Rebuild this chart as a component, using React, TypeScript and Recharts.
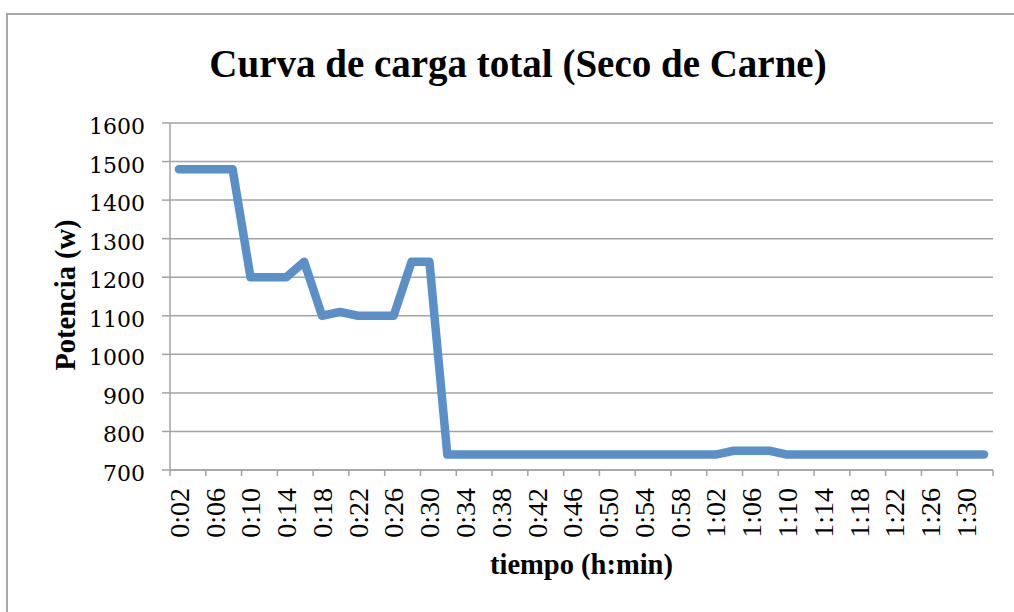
import React from 'react';
import { LineChart, Line, XAxis, YAxis, CartesianGrid } from 'recharts';

// tiempo (h:min), one reading every 2 minutes
const times = [
    '0:02', '0:04', '0:06', '0:08', '0:10', '0:12', '0:14', '0:16', '0:18', '0:20',
    '0:22', '0:24', '0:26', '0:28', '0:30', '0:32', '0:34', '0:36', '0:38', '0:40',
    '0:42', '0:44', '0:46', '0:48', '0:50', '0:52', '0:54', '0:56', '0:58', '1:00',
    '1:02', '1:04', '1:06', '1:08', '1:10', '1:12', '1:14', '1:16', '1:18', '1:20',
    '1:22', '1:24', '1:26', '1:28', '1:30', '1:32',
];

// Potencia (w)
const potencia = [
    1480, 1480, 1480, 1480, 1200, 1200, 1200, 1240, 1100, 1110,
    1100, 1100, 1100, 1240, 1240, 740, 740, 740, 740, 740,
    740, 740, 740, 740, 740, 740, 740, 740, 740, 740,
    740, 750, 750, 750, 740, 740, 740, 740, 740, 740,
    740, 740, 740, 740, 740, 740,
];

const yTicks = [700, 800, 900, 1000, 1100, 1200, 1300, 1400, 1500, 1600];

const data = times.map((t, i) => ({ t, w: potencia[i] }));

const W = 1014;
const H = 612;
const PLOT_LEFT = 170;
const PLOT_RIGHT = 993;
const PLOT_TOP = 123;
const PLOT_BOTTOM = 470;
const BAND = (PLOT_RIGHT - PLOT_LEFT) / times.length;
const GRID = '#a3a3a3';
const BLUE = '#5a8fc8';

// x tick: Excel style marks between categories, label rotated
const TimeTick = (props: any) => {
    const { x, y, payload } = props;
    const idx = times.indexOf(payload.value);
    const isLast = idx + 2 >= times.length;
    return (
        <g>
            <line x1={x - BAND / 2} x2={x - BAND / 2} y1={y} y2={y + 6} stroke={GRID} strokeWidth={1.5} />
            {isLast && (
                <line x1={x + BAND * 1.5} x2={x + BAND * 1.5} y1={y} y2={y + 6} stroke={GRID} strokeWidth={1.5} />
            )}
            <text
                transform={`translate(${x},${y + 18}) rotate(-90)`}
                textAnchor="end"
                dy="0.35em"
                fontFamily="'Liberation Serif', serif"
                fontSize={28}
                fill="#000"
            >
                {payload.value}
            </text>
        </g>
    );
};

const PowerTick = (props: any) => {
    const { x, y, payload } = props;
    return (
        <text x={x} y={y + 11} textAnchor="end" fontFamily="'DejaVu Serif', serif" fontSize={22} fill="#000">
            {payload.value}
        </text>
    );
};

export default function App() {
    return (
        <div
            style={{
                position: 'absolute',
                left: 0,
                top: 0,
                width: W,
                height: H,
                overflow: 'hidden',
                background: '#fff',
            }}
        >
            {/* chart frame */}
            <div
                style={{
                    position: 'absolute',
                    left: 6,
                    top: 13,
                    width: 1200,
                    height: 800,
                    border: '2px solid #a8a8a8',
                }}
            />
            <LineChart
                width={W}
                height={H}
                data={data}
                margin={{ top: PLOT_TOP, right: W - PLOT_RIGHT, bottom: 0, left: 0 }}
            >
                <CartesianGrid vertical={false} stroke={GRID} strokeWidth={1.5} />
                <XAxis
                    dataKey="t"
                    interval={1}
                    height={H - PLOT_BOTTOM}
                    padding={{ left: BAND / 2, right: BAND / 2 }}
                    tickLine={false}
                    tickSize={0}
                    tickMargin={0}
                    axisLine={{ stroke: GRID, strokeWidth: 1.5 }}
                    tick={<TimeTick />}
                />
                <YAxis
                    width={PLOT_LEFT}
                    domain={[700, 1600]}
                    ticks={yTicks}
                    interval={0}
                    allowDataOverflow
                    tickSize={8}
                    tickMargin={17}
                    axisLine={{ stroke: GRID, strokeWidth: 1.5 }}
                    tickLine={{ stroke: GRID, strokeWidth: 1.5 }}
                    tick={<PowerTick />}
                />
                <Line
                    type="linear"
                    dataKey="w"
                    stroke={BLUE}
                    strokeWidth={8.5}
                    strokeLinecap="round"
                    strokeLinejoin="round"
                    dot={false}
                    activeDot={false}
                    isAnimationActive={false}
                />
            </LineChart>
            {/* title and axis titles */}
            <svg
                width={W}
                height={H}
                style={{ position: 'absolute', left: 0, top: 0, pointerEvents: 'none' }}
            >
                <text
                    x={518}
                    y={77}
                    textAnchor="middle"
                    fontFamily="'Liberation Serif', serif"
                    fontWeight="bold"
                    fontSize={39}
                    fill="#000"
                >
                    Curva de carga total (Seco de Carne)
                </text>
                <text
                    x={(PLOT_LEFT + PLOT_RIGHT) / 2}
                    y={574}
                    textAnchor="middle"
                    fontFamily="'Liberation Serif', serif"
                    fontWeight="bold"
                    fontSize={28.5}
                    fill="#000"
                >
                    tiempo (h:min)
                </text>
                <text
                    transform="translate(75,295) rotate(-90)"
                    textAnchor="middle"
                    fontFamily="'Liberation Serif', serif"
                    fontWeight="bold"
                    fontSize={28.5}
                    fill="#000"
                >
                    Potencia (w)
                </text>
            </svg>
        </div>
    );
}
